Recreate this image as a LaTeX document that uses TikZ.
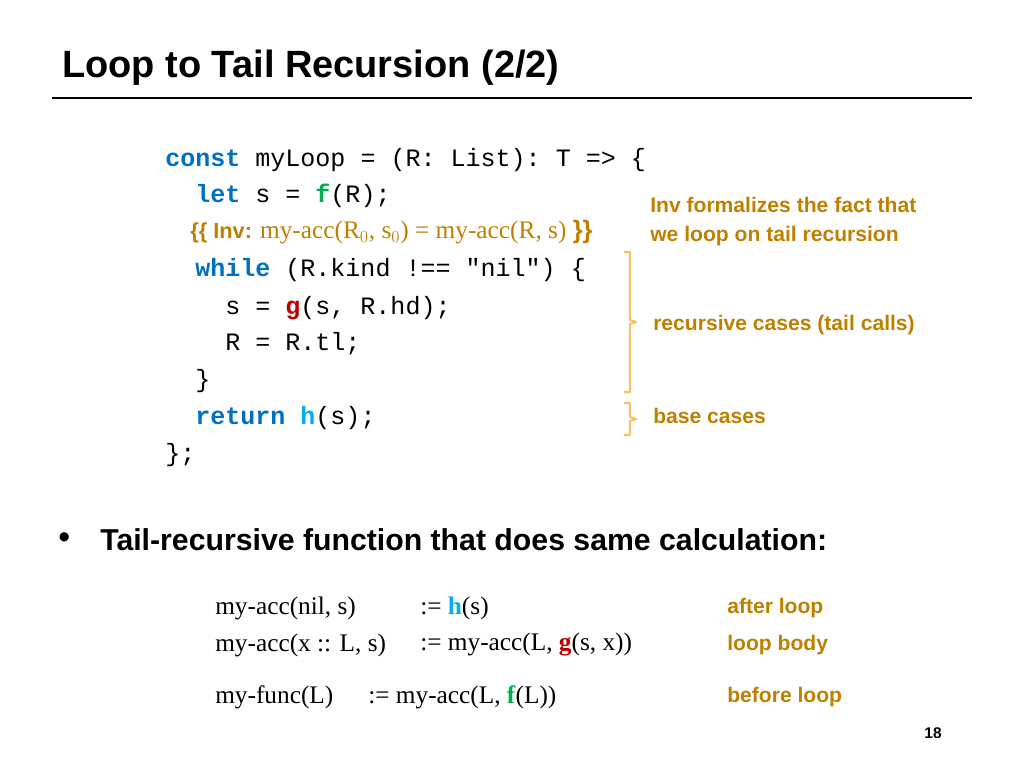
\documentclass[tikz,border=0pt]{standalone}
\usepackage{fontspec}
\setmainfont{Liberation Serif}
\setsansfont{Liberation Sans}
\setmonofont{Liberation Mono}
\definecolor{kwblue}{RGB}{0,112,192}
\definecolor{fgreen}{RGB}{0,176,80}
\definecolor{gred}{RGB}{192,0,0}
\definecolor{hcyan}{RGB}{0,176,240}
\definecolor{noteorange}{RGB}{191,128,0}
\definecolor{brace}{RGB}{250,192,100}
\newcommand{\kw}[1]{\textcolor{kwblue}{\textbf{#1}}}
\tikzset{
  code/.style={anchor=west, inner sep=0pt, font=\ttfamily\fontsize{17.8}{20}\selectfont},
  note/.style={anchor=west, inner sep=0pt, text=noteorange, font=\sffamily\bfseries\fontsize{15}{18}\selectfont},
  eqn/.style={anchor=west, inner sep=0pt, font=\rmfamily\fontsize{18}{22}\selectfont},
}
\begin{document}
\begin{tikzpicture}[x=0.025cm,y=-0.025cm]
        \useasboundingbox (0,0) rectangle (1024,768);

        % title
        \node[anchor=west, inner sep=0pt, font=\sffamily\bfseries\fontsize{27}{32}\selectfont] (title) at (62,68) {Loop to Tail Recursion (2/2)};
        \draw[line width=1.5pt] (52,98) -- (972,98);

        % code
        \node[code] (c1) at (165,160) {\kw{const} myLoop = (R: List): T => \{};
        \node[code] (c2) at (195,196) {\kw{let} s = \textcolor{fgreen}{\textbf{f}}(R);};
        \node[anchor=west, inner sep=0pt, text=noteorange] (inv) at (190,232)
            {\sffamily\bfseries\fontsize{15.5}{18}\selectfont\{\{ Inv: \rmfamily\mdseries\fontsize{18}{20}\selectfont my-acc(R$_0$, s$_0$) = my-acc(R, s) \sffamily\bfseries\}\}};
        \node[code] (c3) at (195,270) {\kw{while} (R.kind !== "nil") \{};
        \node[code] (c4) at (225,308) {s = \textcolor{gred}{\textbf{g}}(s, R.hd);};
        \node[code] (c5) at (225,344) {R = R.tl;};
        \node[code] (c6) at (195,381) {\}};
        \node[code] (c7) at (195,418) {\kw{return} \textcolor{hcyan}{\textbf{h}}(s);};
        \node[code] (c8) at (165,455) {\};};

        % notes
        \node[note] (n1) at (650,205) {Inv formalizes the fact that};
        \node[note] (n2) at (650,236) {we loop on tail recursion};
        \node[note] (n3) at (653,325) {recursive cases (tail calls)};
        \node[note] (n4) at (653,416) {base cases};

        % brackets
        \draw[brace, line width=1.5pt, line join=round] (624,252) -- (630,252) -- (630,320) -- (636,322) -- (630,324) -- (630,392) -- (624,392);
        \draw[brace, line width=1.5pt, line join=round] (624,403) -- (630,403) -- (630,417) -- (636,419) -- (630,421) -- (630,435) -- (624,435);

        % bullet
        \node[anchor=west, inner sep=0pt, font=\sffamily\fontsize{24}{28}\selectfont] (bul) at (58,541) {\textbullet};
        \node[anchor=west, inner sep=0pt, font=\sffamily\bfseries\fontsize{21.5}{26}\selectfont] (btext) at (100,540) {Tail-recursive function that does same calculation:};

        % equations
        \node[eqn] (e1l) at (215,608) {my-acc(nil, s)};
        \node[eqn] (e1r) at (420,608) {:= \textcolor{hcyan}{\textbf{h}}(s)};
        \node[eqn] (e2l) at (215,645) {my-acc(x :: L, s)};
        \node[eqn] (e2r) at (420,645) {:= my-acc(L, \textcolor{gred}{\textbf{g}}(s, x))};
        \node[eqn] (e3l) at (215,697) {my-func(L)};
        \node[eqn] (e3r) at (368,697) {:= my-acc(L, \textcolor{fgreen}{\textbf{f}}(L))};
        \node[note] (a1) at (727,608) {after loop};
        \node[note] (a2) at (727,645) {loop body};
        \node[note] (a3) at (727,697) {before loop};

        % page number
        \node[inner sep=0pt, font=\sffamily\bfseries\fontsize{11}{13}\selectfont] (page) at (933,733) {18};
    \end{tikzpicture}
\end{document}
